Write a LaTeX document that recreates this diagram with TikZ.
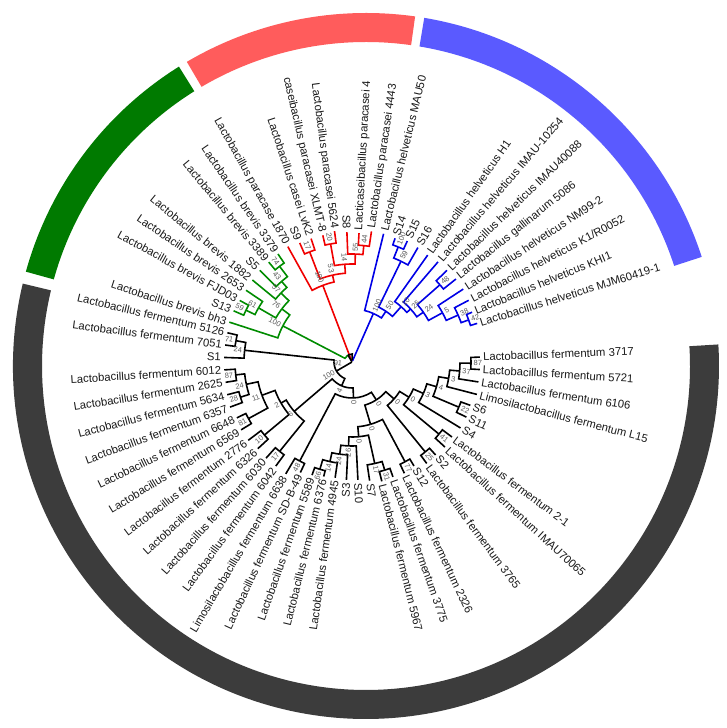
\documentclass[tikz,border=0pt]{standalone}
\usepackage{fontspec}
\setmainfont{Liberation Sans}
\definecolor{tk}{RGB}{0,0,0}
\definecolor{tg}{RGB}{0,140,0}
\definecolor{tr}{RGB}{240,0,0}
\definecolor{tb}{RGB}{0,0,230}
\definecolor{ringg}{RGB}{0,122,0}
\definecolor{ringr}{RGB}{255,92,92}
\definecolor{ringb}{RGB}{90,90,255}
\definecolor{ringk}{RGB}{60,60,60}
\tikzset{
  leaflab/.style={font=\fontsize{11.3}{12}\selectfont, text=black!90, inner sep=0pt},
  suplab/.style={font=\fontsize{7.5}{8}\selectfont, text=black!65, inner sep=0pt},
  br/.style={line width=1.6pt}
}
% leaf: name, angle, tip radius, text
\newcommand\lf[4]{%
  \expandafter\xdef\csname A#1\endcsname{#2}%
  \expandafter\xdef\csname R#1\endcsname{#3}%
  \pgfmathsetmacro\mA{mod(#2+720,360)}%
  \pgfmathtruncatemacro\isL{and(\mA>90,\mA<270)}%
  \ifnum\isL=1
    \pgfmathsetmacro\rotA{\mA-180}%
    \node[leaflab,rotate=\rotA,anchor=east] (L#1) at (#2:#3pt+3pt) {#4};%
  \else
    \node[leaflab,rotate=\mA,anchor=west] (L#1) at (#2:#3pt+3pt) {#4};%
  \fi}
% support label
\newcommand\supl[4]{%
  \pgfmathsetmacro\mA{mod(#2+720,360)}%
  \pgfmathtruncatemacro\isL{and(\mA>90,\mA<270)}%
  \ifnum\isL=1
    \pgfmathsetmacro\rotA{\mA-180}%
    \node[suplab,rotate=\rotA,anchor=east] (S#1) at (#2:#3pt+2.5pt) {#4};%
  \else
    \node[suplab,rotate=\mA,anchor=west] (S#1) at (#2:#3pt+2.5pt) {#4};%
  \fi}
% clade: colour of child 1, colour of child 2, name, child1, child2, radius, support
\newcommand\cl[7]{%
  \edef\ta{\csname A#4\endcsname}\edef\tb{\csname A#5\endcsname}%
  \edef\ra{\csname R#4\endcsname}\edef\rb{\csname R#5\endcsname}%
  \pgfmathsetmacro\tm{(\ta+\tb)/2}%
  \expandafter\xdef\csname A#3\endcsname{\tm}%
  \expandafter\xdef\csname R#3\endcsname{#6}%
  \draw[br,#1] (\ta:\ra pt) -- (\ta:#6pt) arc[start angle=\ta,end angle=\tm,radius=#6pt];%
  \draw[br,#2] (\tm:#6pt) arc[start angle=\tm,end angle=\tb,radius=#6pt] -- (\tb:\rb pt);%
  \coordinate (N#3) at (\tm:#6pt);%
  \supl{#3}{\tm}{#6}{#7}}
\newcommand\seg[3]{\fill[#1] (#2:353pt) arc[start angle=#2,end angle=#3,radius=353pt] -- (#3:324pt) arc[start angle=#3,end angle=#2,radius=324pt] -- cycle;}
\begin{document}
\begin{tikzpicture}[x=1pt,y=1pt]
\fill[white] (0,0) rectangle (727,728);
\useasboundingbox (0,0) rectangle (727,728);
\begin{scope}[shift={(352,366)}]
% ---- leaves: black
\lf{f3717}{2.2}{128}{Lactobacillus fermentum 3717}
\lf{f5721}{-3.38}{128}{Lactobacillus fermentum 5721}
\lf{f6106}{-8.97}{128}{Lactobacillus fermentum 6106}
\lf{fL15}{-14.55}{129}{Limosilactobacillus fermentum L15}
\lf{fS6}{-20.13}{126}{S6}
\lf{fS11}{-25.72}{127}{S11}
\lf{fS4}{-31.3}{127}{S4}
\lf{f21}{-36.88}{125}{Lactobacillus fermentum 2-1}
\lf{fIMAU}{-42.46}{126}{Lactobacillus fermentum IMAU70065}
\lf{fS2}{-48.05}{125}{S2}
\lf{f3765}{-53.63}{126}{Lactobacillus fermentum 3765}
\lf{fS12}{-59.21}{121}{S12}
\lf{f2326}{-64.8}{123}{Lactobacillus fermentum 2326}
\lf{f3775}{-70.38}{122}{Lactobacillus fermentum 3775}
\lf{f5967}{-75.96}{123}{Lactobacillus fermentum 5967}
\lf{fS7}{-81.55}{120}{S7}
\lf{fS10}{-87.13}{118}{S10}
\lf{fS3}{-92.71}{118}{S3}
\lf{f4945}{-98.29}{117}{Lactobacillus fermentum 4945}
\lf{f6376}{-103.88}{118}{Lactobacillus fermentum 6376}
\lf{f5589}{-109.46}{120}{Lactobacillus fermentum 5589}
\lf{fSD}{-115.04}{122}{Lactobacillus fermentum SD-B-49}
\lf{f6638}{-120.63}{130}{Limosilactobacillus fermentum 6638}
\lf{f6042}{-126.21}{129}{Lactobacillus fermentum 6042}
\lf{f6030}{-131.79}{129}{Lactobacillus fermentum 6030}
\lf{f6326}{-137.38}{128}{Lactobacillus fermentum 6326}
\lf{f2776}{-142.96}{130}{Lactobacillus fermentum 2776}
\lf{f6569}{-148.54}{130}{Lactobacillus fermentum 6569}
\lf{f6648}{-154.12}{128}{Lactobacillus fermentum 6648}
\lf{f6357}{-159.71}{130}{Lactobacillus fermentum 6357}
\lf{f5634}{-165.29}{129}{Lactobacillus fermentum 5634}
\lf{f2625}{-170.87}{128}{Lactobacillus fermentum 2625}
\lf{f6012}{-176.46}{128}{Lactobacillus fermentum 6012}
\lf{fS1}{-182.04}{128}{S1}
\lf{f7051}{-187.62}{128}{Lactobacillus fermentum 7051}
\lf{f5126}{-193.2}{128}{Lactobacillus fermentum 5126}
% ---- green
\lf{gbh3}{-198}{129}{Lactobacillus brevis bh3}
\lf{gS13}{-203.37}{129}{S13}
\lf{gFJD}{-208.73}{128}{Lactobacillus brevis FJD03}
\lf{g2653}{-214.1}{128}{Lactobacillus brevis 2653}
\lf{g1882}{-219.46}{129}{Lactobacillus brevis 1882}
\lf{gS5}{-224.83}{130}{S5}
\lf{g3389}{-230.19}{130}{Lactobacillus brevis 3389}
\lf{g3379}{-235.56}{131}{Lactobacillus brevis 3379}
% ---- red
\lf{r1870}{-240.92}{132}{Lactobacillus paracase 1870}
\lf{rS9}{-246.29}{130}{S9}
\lf{rLvK}{-251.65}{130}{Lactobacillus casei LvK2}
\lf{rXLMT}{-257.02}{130}{caseibacillus paracasei XLMT-8}
\lf{r5624}{-262.38}{132}{Lactobacillus paracasei 5624}
\lf{rS8}{-267.75}{130}{S8}
\lf{rp4}{-273.11}{129}{Lacticaseibacillus paracasei 4}
\lf{r4443}{-278.48}{132}{Lactobacillus paracasei 4443}
% ---- blue
\lf{bMAU}{-283.84}{132}{Lactobacillus helveticus MAU50}
\lf{bS14}{-289.21}{131}{S14}
\lf{bS15}{-294.57}{133}{S15}
\lf{bS16}{-299.94}{132}{S16}
\lf{bH1}{-305.3}{131}{Lactobacillus helveticus H1}
\lf{bIa}{-310.67}{132}{Lactobacillus helveticus IMAU-10254}
\lf{bIb}{-316.03}{132}{Lactobacillus helveticus IMAU40088}
\lf{bgal}{-321.4}{133}{Lactobacillus gallinarum 5086}
\lf{bNM}{-326.76}{133}{Lactobacillus helveticus NM99-2}
\lf{bK1}{-332.13}{132}{Lactobacillus helveticus K1/R0052}
\lf{bKHI}{-337.49}{130}{Lactobacillus helveticus KHI1}
\lf{bMJM}{-342.86}{131}{Lactobacillus helveticus MJM60419-1}
% ---- black clades
\cl{tk}{tk}{k87}{f3717}{f5721}{119}{87}
\cl{tk}{tk}{k37}{k87}{f6106}{108}{37}
\cl{tk}{tk}{k3a}{k37}{fL15}{98}{3}
\cl{tk}{tk}{k22}{fS6}{fS11}{116}{22}
\cl{tk}{tk}{k4}{k3a}{k22}{88}{4}
\cl{tk}{tk}{k3b}{k4}{fS4}{78}{3}
\cl{tk}{tk}{k41}{f21}{fIMAU}{113}{41}
\cl{tk}{tk}{k0a}{k3b}{k41}{67}{0}
\cl{tk}{tk}{k25}{fS2}{f3765}{116}{25}
\cl{tk}{tk}{k0b}{k0a}{k25}{56}{0}
\cl{tk}{tk}{k77}{fS12}{f2326}{113}{77}
\cl{tk}{tk}{k31}{f3775}{f5967}{113}{31}
\cl{tk}{tk}{k17}{k31}{fS7}{104}{17}
\cl{tk}{tk}{k66}{f6376}{f5589}{112}{66}
\cl{tk}{tk}{k14}{f4945}{k66}{102}{14}
\cl{tk}{tk}{k24c}{fS3}{k14}{93}{24}
\cl{tk}{tk}{k26}{fS10}{k24c}{84}{26}
\cl{tk}{tk}{k0f}{k17}{k26}{75}{0}
\cl{tk}{tk}{k0g}{k77}{k0f}{65}{0}
\cl{tk}{tk}{k0c}{k0b}{k0g}{45}{0}
\cl{tk}{tk}{k48}{fSD}{f6638}{112}{48}
\cl{tk}{tk}{k0d}{k0c}{k48}{36}{0}
\cl{tk}{tk}{k17b}{f6042}{f6030}{115}{17}
\cl{tk}{tk}{k10}{f6326}{f2776}{114}{10}
\cl{tk}{tk}{k81}{f6569}{f6648}{118}{81}
\cl{tk}{tk}{k28}{f6357}{f5634}{117}{28}
\cl{tk}{tk}{k87b}{f2625}{f6012}{117}{87}
\cl{tk}{tk}{k24b}{k28}{k87b}{108}{24}
\cl{tk}{tk}{k11}{k81}{k24b}{96}{11}
\cl{tk}{tk}{k2}{k10}{k11}{82}{2}
\cl{tk}{tk}{k6}{k17b}{k2}{76}{6}
\cl{tk}{tk}{k4k}{k0d}{k6}{26}{4}
\cl{tk}{tk}{k71}{f7051}{f5126}{118}{71}
\cl{tk}{tk}{k24}{fS1}{k71}{108}{24}
\cl{tk}{tk}{k100}{k4k}{k24}{18}{100}
% ---- green clades
\cl{tg}{tg}{g59}{gFJD}{gS13}{118}{59}
\cl{tg}{tg}{g61}{g2653}{g59}{108}{61}
\cl{tg}{tg}{g74}{g3379}{g3389}{120}{74}
\cl{tg}{tg}{g43}{g74}{gS5}{107}{43}
\cl{tg}{tg}{g57}{g43}{g1882}{99}{57}
\cl{tg}{tg}{g76}{g57}{g61}{88}{76}
\cl{tg}{tg}{g100}{g76}{gbh3}{78}{100}
% ---- red clades
\cl{tr}{tr}{r44}{r4443}{rp4}{117}{44}
\cl{tr}{tr}{r55}{r44}{rS8}{108}{55}
\cl{tr}{tr}{r20}{r5624}{rXLMT}{120}{20}
\cl{tr}{tr}{r14}{r55}{r20}{98}{14}
\cl{tr}{tr}{r17}{rLvK}{rS9}{118}{17}
\cl{tr}{tr}{r53}{r14}{r17}{89}{53}
\cl{tr}{tr}{r100}{r53}{r1870}{82}{100}
% ---- blue clades
\cl{tb}{tb}{b42}{bMJM}{bKHI}{124}{42}
\cl{tb}{tb}{b38}{b42}{bK1}{116}{38}
\cl{tb}{tb}{b5}{b38}{bNM}{103}{5}
\cl{tb}{tb}{b48}{bgal}{bIb}{117}{48}
\cl{tb}{tb}{b24}{b5}{b48}{87}{24}
\cl{tb}{tb}{b25}{b24}{bIa}{79}{25}
\cl{tb}{tb}{b10}{b25}{bH1}{74}{10}
\cl{tb}{tb}{b100b}{bS15}{bS14}{124}{100}
\cl{tb}{tb}{b59}{bS16}{b100b}{112}{59}
\cl{tb}{tb}{b50}{b10}{b59}{61}{50}
\cl{tb}{tb}{b100}{b50}{bMAU}{53}{100}
% ---- root region
\cl{tb}{tr}{rb}{b100}{r100}{2}{}
\cl{tk}{tg}{grb}{rb}{g100}{8}{}
\cl{tk}{tk}{root}{k100}{grb}{0.8}{}
\node[suplab,rotate=-6] (S91) at (-14,-1) {91};
\end{scope}
% ---- outer ring
\begin{scope}[shift={(366,362)}]
\seg{ringg}{122}{164.5}
\seg{ringr}{82}{120.5}
\seg{ringb}{18}{80.5}
\seg{ringk}{166.5}{363.5}
\end{scope}
\end{tikzpicture}
\end{document}
